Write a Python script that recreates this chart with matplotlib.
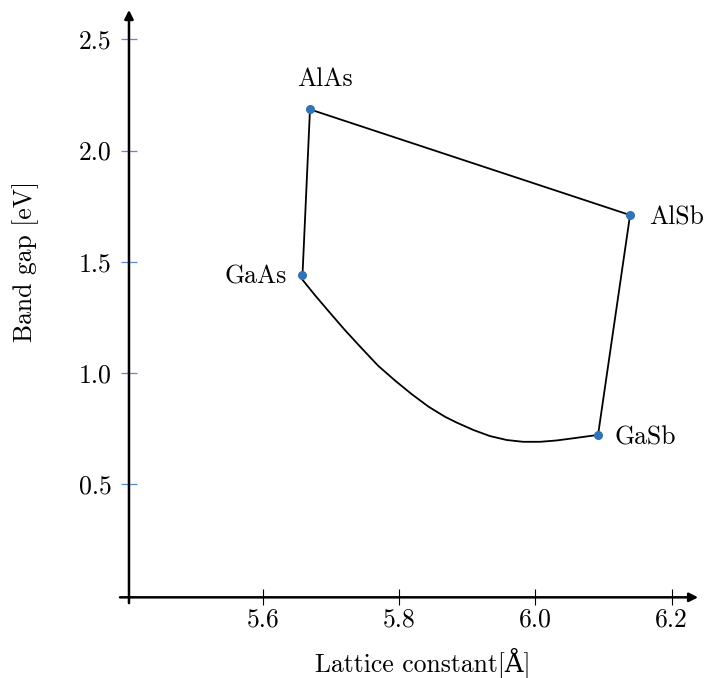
import numpy as np
import matplotlib
matplotlib.use('Agg')
import matplotlib.pyplot as plt

plt.rcParams['font.family'] = ['cmr10', 'DejaVu Serif']
plt.rcParams['font.size'] = 18.5

# binary end points: lattice constant [A], band gap [eV]
names = ['AlAs', 'GaAs', 'AlSb', 'GaSb']
lattice = [5.669, 5.658, 6.139, 6.092]
gap = [2.185, 1.441, 1.710, 0.722]

# GaAs(1-x)Sb(x) bowing curve
bow_a = [5.657, 5.676, 5.696, 5.720, 5.745, 5.769, 5.794, 5.818, 5.843,
         5.867, 5.884, 5.909, 5.933, 5.958, 5.982, 6.007, 6.031, 6.056,
         6.080, 6.092]
bow_e = [1.423, 1.351, 1.279, 1.194, 1.111, 1.033, 0.966, 0.906, 0.849,
         0.804, 0.778, 0.744, 0.717, 0.699, 0.691, 0.691, 0.697, 0.707,
         0.717, 0.722]

xticks = [5.6, 5.8, 6.0, 6.2]
xticklabels = ['5.6', '5.8', '6.0', '6.2']
yticks = [0.5, 1.0, 1.5, 2.0, 2.5]
yticklabels = ['0.5', '1.0', '1.5', '2.0', '2.5']

W, H = 708, 678
fig = plt.figure(figsize=(W / 100, H / 100), dpi=100)

# pixel calibration
def px(x):
    return 263 + (x - 5.6) * 681

def py(y):
    return 484.3 - (y - 0.5) * 222.5

xlim = (5.38, 6.25)
ylim = (-0.04, 2.65)
left = px(xlim[0]) / W
bottom = 1 - py(ylim[0]) / H
ax = fig.add_axes([left, bottom, (px(xlim[1]) - px(xlim[0])) / W,
                   (py(ylim[0]) - py(ylim[1])) / H])
ax.set_xlim(*xlim)
ax.set_ylim(*ylim)
ax.patch.set_alpha(0)

x0, y0 = 5.4032, -0.008
for s in ['top', 'right']:
    ax.spines[s].set_visible(False)
ax.spines['left'].set_position(('data', x0))
ax.spines['bottom'].set_position(('data', y0))
ax.spines['left'].set_linewidth(0)
ax.spines['bottom'].set_linewidth(0)

# axis lines with arrows
ax.annotate('', xy=(6.239, y0), xytext=(5.390, y0),
            arrowprops=dict(arrowstyle='-|>', color='black', lw=1.8,
                            mutation_scale=13, shrinkA=0, shrinkB=0),
            annotation_clip=False)
ax.annotate('', xy=(x0, 2.632), xytext=(x0, -0.034),
            arrowprops=dict(arrowstyle='-|>', color='black', lw=1.8,
                            mutation_scale=13, shrinkA=0, shrinkB=0),
            annotation_clip=False)

ax.set_xticks(xticks)
ax.set_xticklabels(xticklabels)
ax.set_yticks(yticks)
ax.set_yticklabels(yticklabels)
ax.tick_params(axis='x', direction='inout', length=11.5, width=0.8,
               color='black', pad=2, labelsize=18.5)
ax.tick_params(axis='y', direction='inout', length=12.2, width=0.9,
               color='#5b8bd0', pad=6.5, labelsize=18.5)

# outline of the quaternary region
ax.plot([lattice[1], lattice[0], lattice[2], lattice[3]],
        [gap[1], gap[0], gap[2], gap[3]], color='black', lw=1.3,
        solid_joinstyle='round')
ax.plot(bow_a, bow_e, color='black', lw=1.3, solid_joinstyle='round')
ax.plot(lattice, gap, 'o', color='#3073b7', ms=5.5, zorder=5)

offsets = {'AlAs': ((11, 23.5), 'center'),
           'GaAs': ((-11.3, 0.5), 'right'),
           'AlSb': ((13.4, 0), 'left'),
           'GaSb': ((12, 0), 'left')}
for n, a, e in zip(names, lattice, gap):
    off, ha = offsets[n]
    ax.annotate(n, (a, e), xytext=off, textcoords='offset points',
                ha=ha, va='center_baseline', fontsize=18.5)

fig.text(422.4 / W, 1 - 671 / H, 'Lattice constant[Å]', ha='center',
         va='baseline', fontsize=18.5)
fig.text(31.7 / W, 1 - 261 / H, 'Band gap [eV]', ha='center',
         va='baseline', rotation=90, rotation_mode='anchor', fontsize=18.5)

fig.savefig('out.png', dpi=100)
